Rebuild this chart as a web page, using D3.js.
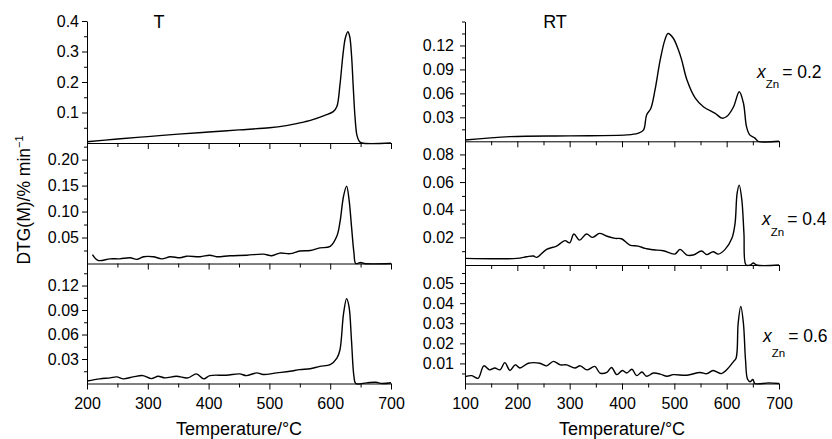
<!DOCTYPE html>
<html>
<head>
<meta charset="utf-8">
<script src="https://cdn.jsdelivr.net/npm/d3@7"></script>
<style>
  body { margin: 0; background: #fff; }
  svg text { font-family: "Liberation Sans", Arial, Helvetica, sans-serif; fill: #000; }
  .axis path, .axis line { stroke: #000; stroke-width: 1; }
  .curve { fill: none; stroke: #000; stroke-width: 1.4; }
</style>
</head>
<body>
<script>
// ---- data ----
// T series (left column)
var tT02 = [200,250,300,350,400,450,500,525,550,570,590,605,611,616,621,625,629,632,635,638,641,644,648,652,700];
var vT02 = [0.004,0.013,0.021,0.029,0.036,0.043,0.050,0.056,0.066,0.076,0.090,0.103,0.120,0.190,0.290,0.345,0.365,0.350,0.290,0.180,0.080,0.025,0.005,0,0];

var tT04 = [209,218,238,254,271,282,293,309,323,337,353,364,386,402,413,435,463,490,504,517,534,550,567,583,600,611,616,622,627,631,635,639,642,650,656,700];
var vT04 = [0.017,0.006,0.009,0.009,0.011,0.008,0.013,0.013,0.009,0.013,0.011,0.014,0.013,0.016,0.013,0.015,0.016,0.018,0.015,0.020,0.019,0.024,0.025,0.030,0.033,0.053,0.079,0.130,0.149,0.123,0.072,0.021,0,0.002,0,0];

var tT06 = [200,221,238,249,260,276,292,306,317,328,347,366,380,392,402,429,451,462,479,490,512,534,550,567,583,600,611,616,622,627,631,635,639,642,660,675,685,700];
var vT06 = [0.003,0.0057,0.0069,0.0081,0.0057,0.0081,0.0097,0.006,0.0089,0.0069,0.0089,0.0069,0.0118,0.0057,0.0097,0.0101,0.0118,0.0097,0.013,0.011,0.013,0.015,0.017,0.018,0.021,0.023,0.031,0.041,0.086,0.104,0.094,0.053,0.009,0,0.0008,0.0015,0,0.001];

// RT series (right column)
var tR02 = [100,186,300,409,430,441,447,455,463,473,482,488,498,508,514,524,540,556,578,591,600,613,624,632,638,644,654,660,700];
var vR02 = [0.0016,0.0058,0.0068,0.008,0.010,0.014,0.033,0.041,0.064,0.102,0.127,0.135,0.129,0.114,0.102,0.077,0.054,0.043,0.035,0.029,0.031,0.043,0.062,0.048,0.018,0.008,0.004,0,0];

var tR04 = [100,199,218,231,237,256,275,291,300,308,319,332,344,357,370,387,399,415,431,444,460,479,501,511,524,536,552,562,574,584,597,610,616,620,624,629,633,637,645,651,657,700];
var vR04 = [0.0048,0.0048,0.006,0.0065,0.0055,0.0113,0.0137,0.0176,0.016,0.0224,0.018,0.0224,0.020,0.0229,0.021,0.0193,0.019,0.0144,0.0137,0.012,0.011,0.0103,0.0079,0.0113,0.0072,0.0072,0.0101,0.0075,0.0096,0.0079,0.0113,0.0193,0.030,0.052,0.0578,0.047,0.023,0,0,0.0015,0,0];

var tR06 = [100,113,125,136,147,157,167,176,186,196,205,221,243,256,269,282,294,310,320,333,348,358,371,380,390,401,409,419,428,438,447,460,473,486,498,524,549,562,574,590,600,613,618,622,627,632,636,640,645,650,654,680,700];
var vR06 = [0.0034,0.0039,0.0026,0.0088,0.0068,0.0077,0.0068,0.0104,0.0065,0.0093,0.0077,0.0101,0.0101,0.0088,0.011,0.0093,0.0093,0.0077,0.0088,0.0068,0.0085,0.0052,0.0055,0.008,0.0044,0.0065,0.0052,0.0071,0.0039,0.0057,0.0036,0.0052,0.0047,0.0036,0.0044,0.0041,0.0055,0.0049,0.0065,0.0049,0.0068,0.0109,0.0126,0.030,0.0384,0.030,0.0118,0.0021,0.0009,0.002,0,0.0003,0];

// tick labels
var xTicksT = [200,300,400,500,600,700];
var xTicksRT = [100,200,300,400,500,600,700];
var yTicksT02 = [0.1,0.2,0.3,0.4];
var yTicksT04 = [0.05,0.10,0.15,0.20];
var yTicksT06 = [0.03,0.06,0.09,0.12];
var yTicksR02 = [0.03,0.06,0.09,0.12];
var yTicksR04 = [0.02,0.04,0.06,0.08];
var yTicksR06 = [0.01,0.02,0.03,0.04,0.05];
var compositions = ["0.2","0.4","0.6"];

// ---- layout ----
var W = 832, H = 439;
var svg = d3.select("body").append("svg")
    .attr("width", W)
    .attr("height", H);

var cols = {
  T:  { x0: 87,  x1: 391, dom: [200,700], ticks: xTicksT,  pad: 3 },
  RT: { x0: 465, x1: 779, dom: [100,700], ticks: xTicksRT, pad: 6 }
};

var panels = [
  { col: "T",  top: 21,    bot: 143,   ymax: 0.40,  yt: yTicksT02, minor: 0.05,  fmt: ".1f",  t: tT02, v: vT02 },
  { col: "T",  top: 143,   bot: 263.5, ymax: 0.232, yt: yTicksT04, minor: 0.025, fmt: ".2f",  t: tT04, v: vT04 },
  { col: "T",  top: 263.5, bot: 383.5, ymax: 0.147, yt: yTicksT06, minor: 0.015, fmt: ".2f",  t: tT06, v: vT06, last: true },
  { col: "RT", top: 21.5,  bot: 141.3, ymax: 0.15,  yt: yTicksR02, minor: 0.015, fmt: ".2f",  t: tR02, v: vR02 },
  { col: "RT", top: 141.3, bot: 265,   ymax: 0.0895,yt: yTicksR04, minor: 0.01,  fmt: ".2f",  t: tR04, v: vR04 },
  { col: "RT", top: 265,   bot: 383.5, ymax: 0.059, yt: yTicksR06, minor: 0.005, fmt: ".2f",  t: tR06, v: vR06, last: true }
];

function range(step, max) {
  var out = [];
  for (var i = 1; i * step <= max + 1e-9; i++) out.push(+(i * step).toFixed(4));
  return out;
}

panels.forEach(function(p) {
  var c = cols[p.col];
  var x = d3.scaleLinear().domain(c.dom).range([c.x0, c.x1]);
  var y = d3.scaleLinear().domain([0, p.ymax]).range([p.bot, p.top]);

  // y axis (major + minor)
  svg.append("g")
      .attr("class", "axis")
      .attr("transform", "translate(" + c.x0 + ",0)")
      .call(d3.axisLeft(y).tickValues(p.yt).tickSize(5).tickSizeOuter(0)
            .tickPadding(c.pad).tickFormat(d3.format(p.fmt)))
      .call(function(g) { g.selectAll("text").attr("font-size", 16); });
  svg.append("g")
      .attr("class", "axis")
      .attr("transform", "translate(" + c.x0 + ",0)")
      .call(d3.axisLeft(y).tickValues(range(p.minor, p.ymax).filter(function(d) {
              return p.yt.indexOf(d) < 0; })).tickSize(3).tickFormat(""))
      .call(function(g) { g.select(".domain").remove(); });

  // x axis (major + minor)
  var minorX = d3.range(c.dom[0] + 50, c.dom[1], 100);
  svg.append("g")
      .attr("class", "axis")
      .attr("transform", "translate(0," + p.bot + ")")
      .call(d3.axisBottom(x).tickValues(c.ticks).tickSize(6).tickSizeOuter(0)
            .tickPadding(8).tickFormat(p.last ? d3.format("d") : ""))
      .call(function(g) { g.selectAll("text").attr("font-size", 16); });
  svg.append("g")
      .attr("class", "axis")
      .attr("transform", "translate(0," + p.bot + ")")
      .call(d3.axisBottom(x).tickValues(minorX).tickSize(4).tickFormat(""))
      .call(function(g) { g.select(".domain").remove(); });

  // curve, smooth through the read points
  var pts = p.t.map(function(t, i) { return [t, p.v[i]]; });
  var line = d3.line()
      .x(function(d) { return x(d[0]); })
      .y(function(d) { return Math.min(y(d[1]), p.bot); })
      .curve(d3.curveCatmullRom.alpha(0.5));
  svg.append("path")
      .datum(pts)
      .attr("class", "curve")
      .attr("d", line);
});

// column titles
svg.append("text").attr("x", 159).attr("y", 28).attr("text-anchor", "middle")
    .attr("font-size", 18).text("T");
svg.append("text").attr("x", 555).attr("y", 28).attr("text-anchor", "middle")
    .attr("font-size", 18).text("RT");

// x axis titles
[cols.T, cols.RT].forEach(function(c) {
  svg.append("text")
      .attr("x", (c.x0 + c.x1) / 2)
      .attr("y", 435)
      .attr("text-anchor", "middle")
      .attr("font-size", 18)
      .text("Temperature/°C");
});

// y axis title
var yl = svg.append("text")
    .attr("transform", "translate(30,200) rotate(-90)")
    .attr("text-anchor", "middle")
    .attr("font-size", 17.5);
yl.append("tspan").text("DTG(M)/% min");
yl.append("tspan").attr("dy", -7).attr("font-size", 11).text("−1");

// composition labels
var labelPos = [[757, 78, 88], [762, 225, 236], [763, 342, 357]];
compositions.forEach(function(v, i) {
  var lp = labelPos[i];
  var g = svg.append("text").attr("x", lp[0]).attr("y", lp[1]).attr("font-size", 17.5);
  g.append("tspan").attr("font-style", "italic").text("x");
  g.append("tspan").attr("font-size", 11.5).attr("dx", 0).attr("dy", lp[2] - lp[1]).text("Zn");
  g.append("tspan").attr("dy", lp[1] - lp[2]).attr("dx", 3).text("= " + v);
});
</script>
</body>
</html>
